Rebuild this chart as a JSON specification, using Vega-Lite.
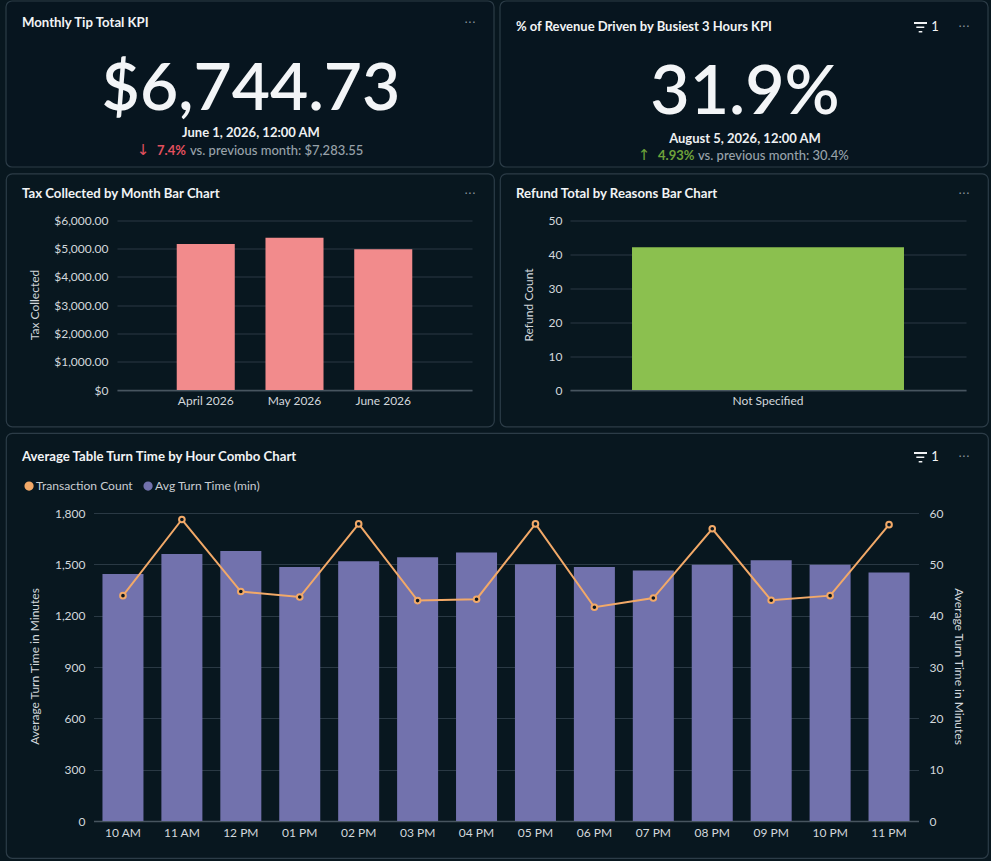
{
  "$schema": "https://vega.github.io/schema/vega-lite/v6.json",
  "background": "#08171f",
  "padding": {"left": 5, "top": 0, "right": 2, "bottom": 2},
  "config": {
    "font": "Lato",
    "style": {"cell": {"stroke": "#2c3c47", "strokeWidth": 1.2, "cornerRadius": 6}},
    "title": {"font": "Lato", "fontSize": 13.2, "fontWeight": 700, "color": "#f1f3f5", "anchor": "start", "frame": "group", "dx": 16, "baseline": "alphabetic"},
    "axis": {"labelFont": "Lato", "labelFontSize": 12, "labelColor": "#d3d8dc", "titleFont": "Lato", "titleFontSize": 12, "titleFontWeight": 400, "titleColor": "#d3d8dc", "ticks": false, "domain": false, "gridColor": "#2a3944", "gridWidth": 1.2, "labelPadding": 0},
    "legend": {"labelFont": "Lato", "labelFontSize": 12.1, "labelColor": "#c8cdd2"}
  },
  "vconcat": [
    {
      "hconcat": [
        {
          "width": 488,
          "height": 166,
          "title": {"text": "Monthly Tip Total KPI", "offset": -30},
          "layer": [
            {"data": {"values": [{"label": "card"}]}, "mark": {"type": "rect", "fill": "#07151f", "stroke": "#2c3c47", "strokeWidth": 1.2, "cornerRadius": 6}},
            {"data": {"values": [{"label": "$6,744.73"}]}, "mark": {"type": "text", "font": "Lato", "fontSize": 66, "fontWeight": 600, "color": "#f3f5f7", "baseline": "alphabetic", "dy": 26, "dx": 1}, "encoding": {"text": {"field": "label"}}},
            {"data": {"values": [{"label": "June 1, 2026, 12:00 AM"}]}, "mark": {"type": "text", "font": "Lato", "fontSize": 13, "fontWeight": 700, "color": "#eef0f2", "baseline": "alphabetic", "dy": 53, "dx": 1}, "encoding": {"text": {"field": "label"}}},
            {"data": {"values": [{"label": "↓"}]}, "mark": {"type": "text", "font": "DejaVu Sans", "fontSize": 15, "color": "#e2505e", "baseline": "alphabetic", "dy": 71, "dx": -107}, "encoding": {"text": {"field": "label"}}},
            {"data": {"values": [{"label": "7.4%"}]}, "mark": {"type": "text", "font": "Lato", "fontSize": 13, "fontWeight": 700, "color": "#e2505e", "align": "left", "baseline": "alphabetic", "dy": 71, "dx": -93}, "encoding": {"text": {"field": "label"}}},
            {"data": {"values": [{"label": "vs. previous month: $7,283.55"}]}, "mark": {"type": "text", "font": "Lato", "fontSize": 13, "fontWeight": 500, "color": "#98a2aa", "align": "left", "baseline": "alphabetic", "dy": 71, "dx": -60}, "encoding": {"text": {"field": "label"}}},
            {"data": {"values": [{"label": "···"}]}, "mark": {"type": "text", "font": "DejaVu Sans", "fontSize": 12, "color": "#8d98a1", "dy": -61, "dx": 220}, "encoding": {"text": {"field": "label"}}}
          ]
        },
        {
          "width": 488,
          "height": 166,
          "title": {"text": "% of Revenue Driven by Busiest 3 Hours KPI", "offset": -33.5, "fontSize": 13},
          "layer": [
            {"data": {"values": [{"label": "card"}]}, "mark": {"type": "rect", "fill": "#07151f", "stroke": "#2c3c47", "strokeWidth": 1.2, "cornerRadius": 6}},
            {"data": {"values": [{"label": "31.9%"}]}, "mark": {"type": "text", "font": "Lato", "fontSize": 68, "fontWeight": 600, "color": "#f3f5f7", "baseline": "alphabetic", "dy": 30, "dx": 1}, "encoding": {"text": {"field": "label"}}},
            {"data": {"values": [{"label": "August 5, 2026, 12:00 AM"}]}, "mark": {"type": "text", "font": "Lato", "fontSize": 13, "fontWeight": 700, "color": "#eef0f2", "baseline": "alphabetic", "dy": 59, "dx": 1}, "encoding": {"text": {"field": "label"}}},
            {"data": {"values": [{"label": "↑"}]}, "mark": {"type": "text", "font": "DejaVu Sans", "fontSize": 15, "color": "#6fa33a", "baseline": "alphabetic", "dy": 76, "dx": -100}, "encoding": {"text": {"field": "label"}}},
            {"data": {"values": [{"label": "4.93%"}]}, "mark": {"type": "text", "font": "Lato", "fontSize": 13, "fontWeight": 700, "color": "#6fa33a", "align": "left", "baseline": "alphabetic", "dy": 76, "dx": -86}, "encoding": {"text": {"field": "label"}}},
            {"data": {"values": [{"label": "vs. previous month: 30.4%"}]}, "mark": {"type": "text", "font": "Lato", "fontSize": 13, "fontWeight": 500, "color": "#98a2aa", "align": "left", "baseline": "alphabetic", "dy": 76, "dx": -46}, "encoding": {"text": {"field": "label"}}},
            {"data": {"values": [{"label": "filter"}]}, "mark": {"type": "point", "shape": "M170,-62H183V-60H170Z M172.3,-57.5H180.3V-56H172.3Z M174.7,-53H178.3V-51.5H174.7Z", "filled": true, "size": 4, "color": "#f1f3f5", "opacity": 1}},
            {"data": {"values": [{"label": "1"}]}, "mark": {"type": "text", "font": "Lato", "fontSize": 13, "color": "#f1f3f5", "baseline": "alphabetic", "dy": -53, "dx": 191}, "encoding": {"text": {"field": "label"}}},
            {"data": {"values": [{"label": "···"}]}, "mark": {"type": "text", "font": "DejaVu Sans", "fontSize": 12, "color": "#8d98a1", "dy": -57, "dx": 220}, "encoding": {"text": {"field": "label"}}}
          ]
        }
      ],
      "spacing": 4
    },
    {
      "hconcat": [
        {
          "width": 488,
          "height": 253,
          "title": {"text": "Tax Collected by Month Bar Chart", "offset": -27.5},
          "layer": [
            {
              "data": {"values": [
                {"month": "April 2026", "tax": 5153},
                {"month": "May 2026", "tax": 5375},
                {"month": "June 2026", "tax": 4965}
              ]},
              "mark": {"type": "bar", "color": "#f28b8c"},
              "encoding": {
                "x": {"field": "month", "type": "nominal", "sort": null, "title": null,
                  "scale": {"range": [111, 466], "paddingInner": 0.346, "paddingOuter": 0.673},
                  "axis": {"orient": "bottom", "offset": -36.5, "labelAngle": 0, "domain": true, "domainColor": "#47555f", "domainWidth": 1.4, "labelPadding": 5}},
                "y": {"field": "tax", "type": "quantitative", "title": "Tax Collected",
                  "scale": {"domain": [0, 6000], "range": [216.5, 46.5], "nice": false},
                  "axis": {"orient": "left", "offset": -102, "values": [0, 1000, 2000, 3000, 4000, 5000, 6000], "labelExpr": "datum.value === 0 ? '$0' : format(datum.value, '$,.2f')", "titleX": -67, "titleY": 131}}
              }
            },
            {"data": {"values": [{"label": "···"}]}, "mark": {"type": "text", "font": "DejaVu Sans", "fontSize": 12, "color": "#8d98a1", "dy": -106, "dx": 220}, "encoding": {"text": {"field": "label"}}}
          ]
        },
        {
          "width": 488,
          "height": 253,
          "title": {"text": "Refund Total by Reasons Bar Chart", "offset": -27.5},
          "layer": [
            {
              "data": {"values": [{"reason": "Not Specified", "refunds": 42}]},
              "mark": {"type": "bar", "color": "#8bc04f"},
              "encoding": {
                "x": {"field": "reason", "type": "nominal", "title": null,
                  "scale": {"range": [70, 466], "paddingInner": 0, "paddingOuter": 0.228},
                  "axis": {"orient": "bottom", "offset": -36.5, "labelAngle": 0, "domain": true, "domainColor": "#47555f", "domainWidth": 1.4, "labelPadding": 5}},
                "y": {"field": "refunds", "type": "quantitative", "title": "Refund Count",
                  "scale": {"domain": [0, 50], "range": [216.5, 46.5], "nice": false},
                  "axis": {"orient": "left", "offset": -62, "values": [0, 10, 20, 30, 40, 50], "titleX": -27, "titleY": 131}}
              }
            },
            {"data": {"values": [{"label": "···"}]}, "mark": {"type": "text", "font": "DejaVu Sans", "fontSize": 12, "color": "#8d98a1", "dy": -106, "dx": 220}, "encoding": {"text": {"field": "label"}}}
          ]
        }
      ],
      "spacing": 4
    },
    {
      "width": 982,
      "height": 425,
      "title": {"text": "Average Table Turn Time by Hour Combo Chart", "offset": -31},
      "layer": [
        {
          "layer": [
            {
              "transform": [{"filter": "datum.series === 'Avg Turn Time (min)'"}],
              "mark": {"type": "bar"},
              "encoding": {
                "y": {"field": "value", "type": "quantitative", "title": "Average Turn Time in Minutes",
                  "scale": {"domain": [0, 60], "range": [388, 80], "nice": false},
                  "axis": {"orient": "right", "offset": -59, "grid": false, "values": [0, 10, 20, 30, 40, 50, 60], "titleX": 22, "titleY": 233, "titleAngle": 90}}
              }
            },
            {
              "transform": [{"filter": "datum.series === 'Transaction Count'"}],
              "layer": [
                {"mark": {"type": "line", "strokeWidth": 2}},
                {"mark": {"type": "point", "filled": false, "fill": "#07151f", "fillOpacity": 1, "opacity": 1, "size": 32, "strokeWidth": 2}}
              ],
              "encoding": {
                "y": {"field": "value", "type": "quantitative", "title": "Average Turn Time in Minutes",
                  "scale": {"domain": [0, 1800], "range": [388, 80], "nice": false},
                  "axis": {"orient": "left", "offset": -79, "grid": true, "values": [0, 300, 600, 900, 1200, 1500, 1800], "labelExpr": "format(datum.value, ',d')", "titleX": -44, "titleY": 233}}
              }
            }
          ],
          "data": {"name": "combo", "values": [
            {"hour": "10 AM", "series": "Avg Turn Time (min)", "value": 48.1},
            {"hour": "11 AM", "series": "Avg Turn Time (min)", "value": 52},
            {"hour": "12 PM", "series": "Avg Turn Time (min)", "value": 52.6},
            {"hour": "01 PM", "series": "Avg Turn Time (min)", "value": 49.5},
            {"hour": "02 PM", "series": "Avg Turn Time (min)", "value": 50.6},
            {"hour": "03 PM", "series": "Avg Turn Time (min)", "value": 51.4},
            {"hour": "04 PM", "series": "Avg Turn Time (min)", "value": 52.3},
            {"hour": "05 PM", "series": "Avg Turn Time (min)", "value": 50},
            {"hour": "06 PM", "series": "Avg Turn Time (min)", "value": 49.5},
            {"hour": "07 PM", "series": "Avg Turn Time (min)", "value": 48.8},
            {"hour": "08 PM", "series": "Avg Turn Time (min)", "value": 49.9},
            {"hour": "09 PM", "series": "Avg Turn Time (min)", "value": 50.8},
            {"hour": "10 PM", "series": "Avg Turn Time (min)", "value": 49.9},
            {"hour": "11 PM", "series": "Avg Turn Time (min)", "value": 48.4},
            {"hour": "10 AM", "series": "Transaction Count", "value": 1317},
            {"hour": "11 AM", "series": "Transaction Count", "value": 1762},
            {"hour": "12 PM", "series": "Transaction Count", "value": 1341},
            {"hour": "01 PM", "series": "Transaction Count", "value": 1309},
            {"hour": "02 PM", "series": "Transaction Count", "value": 1736},
            {"hour": "03 PM", "series": "Transaction Count", "value": 1288},
            {"hour": "04 PM", "series": "Transaction Count", "value": 1296},
            {"hour": "05 PM", "series": "Transaction Count", "value": 1736},
            {"hour": "06 PM", "series": "Transaction Count", "value": 1249},
            {"hour": "07 PM", "series": "Transaction Count", "value": 1303},
            {"hour": "08 PM", "series": "Transaction Count", "value": 1708},
            {"hour": "09 PM", "series": "Transaction Count", "value": 1290},
            {"hour": "10 PM", "series": "Transaction Count", "value": 1317},
            {"hour": "11 PM", "series": "Transaction Count", "value": 1732}
          ]},
          "encoding": {
            "x": {"field": "hour", "type": "nominal", "sort": null, "title": null,
              "scale": {"range": [87.5, 912.5], "paddingInner": 0.304, "paddingOuter": 0.152},
              "axis": {"orient": "bottom", "offset": -37, "labelAngle": 0, "domain": true, "domainColor": "#47555f", "domainWidth": 1.4, "labelPadding": 6}},
            "color": {"field": "series", "type": "nominal", "title": null,
              "scale": {"domain": ["Transaction Count", "Avg Turn Time (min)"], "range": ["#f2a968", "#7272ad"]},
              "legend": {"orient": "none", "legendX": 17, "legendY": 479, "direction": "horizontal", "symbolType": "circle", "symbolSize": 60, "columnPadding": 8, "labelOffset": 1}}
          },
          "resolve": {"scale": {"y": "independent"}}
        },
        {"data": {"values": [{"label": "filter"}]}, "mark": {"type": "point", "shape": "M417,-193.5H430V-191.5H417Z M419.3,-189H427.3V-187.5H419.3Z M421.7,-184.5H425.3V-183H421.7Z", "filled": true, "size": 4, "color": "#f1f3f5", "opacity": 1}},
        {"data": {"values": [{"label": "1"}]}, "mark": {"type": "text", "font": "Lato", "fontSize": 13, "color": "#f1f3f5", "baseline": "alphabetic", "dy": -185, "dx": 438}, "encoding": {"text": {"field": "label"}}},
        {"data": {"values": [{"label": "···"}]}, "mark": {"type": "text", "font": "DejaVu Sans", "fontSize": 12, "color": "#8d98a1", "dy": -189, "dx": 467}, "encoding": {"text": {"field": "label"}}}
      ],
      "resolve": {"scale": {"y": "independent"}}
    }
  ],
  "spacing": 4.5
}
